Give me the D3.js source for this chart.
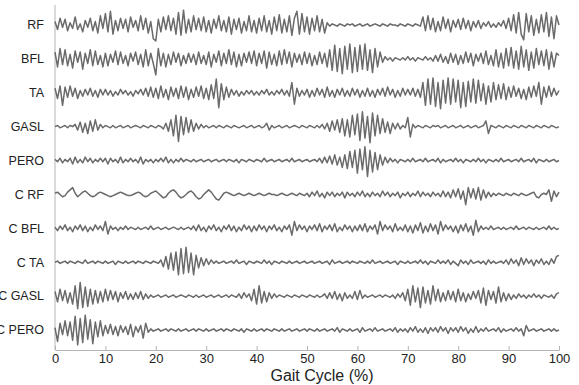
<!DOCTYPE html>
<html>
<head>
<meta charset="utf-8">
<script src="https://cdn.jsdelivr.net/npm/d3@7"></script>
<style>
  body { margin: 0; background: #fff; }
  svg { display: block; font-family: "Liberation Sans", Arial, sans-serif; }
</style>
</head>
<body>
<div id="chart"></div>
<script>
// muscle labels, top to bottom
const muscles = ['RF', 'BFL', 'TA', 'GASL', 'PERO', 'C RF', 'C BFL', 'C TA', 'C GASL', 'C PERO'];
// samples every 0.5 % of the gait cycle (201 per trace)
const pct = d3.range(0, 100.5, 0.5);
const xTicks = [0, 10, 20, 30, 40, 50, 60, 70, 80, 90, 100];

const emgRF = [
  3,-4,6,-2,5,-5,2,-3,7,-4,1,-6,4,-2,6,-5,3,-7,8,-3,
  10,-6,12,-8,4,-5,6,-3,5,-6,7,-2,4,-5,8,-4,6,-7,3,-12,
  -14,5,-6,7,-4,8,-5,6,-8,11,-9,13,-7,5,-6,8,-4,6,-5,7,
  -6,4,-7,5,-3,8,-5,4,-6,7,-8,5,-4,6,-7,3,-5,8,-6,4,
  -7,6,-5,8,-6,4,-8,7,-5,9,-7,5,-6,8,-9,6,12,-8,10,-6,
  7,-8,6,-5,8,-6,5,-7,2,-1,1,0,-1,1,0,-1,1,0,1,-1,
  0,1,-1,0,1,-1,0,1,0,-1,1,0,-1,1,0,0,-1,1,0,-1,
  1,0,-1,1,0,-1,7,-5,8,-4,6,-6,3,-5,7,-3,5,-6,4,-2,
  5,-4,6,-3,4,-5,3,-2,4,-3,2,-1,3,-2,1,-2,2,-1,4,-3,
  6,-5,9,-7,11,-8,-13,10,-6,8,-9,5,-7,9,-6,11,-10,7,-12,8,
  0];
const emgBFL = [
  6,-7,9,-5,8,-6,4,-8,7,-3,6,-9,5,-4,8,-6,7,-5,3,-7,
  5,-6,4,-3,7,-5,6,-4,3,-6,5,-2,6,-5,4,-7,8,-6,5,-4,
  -14,9,-6,5,-7,4,-5,6,-3,5,-6,3,-4,5,-3,4,-5,6,-4,3,
  -5,6,-7,4,-3,7,-6,5,-4,8,-5,6,-7,4,-6,5,-3,6,-4,7,
  -6,5,-4,7,-8,6,-5,4,-6,7,-5,8,-4,6,-7,5,-3,4,-5,6,
  -4,5,-6,3,-5,6,-4,5,-7,8,-10,12,-11,9,-13,11,-9,13,-12,10,
  -11,12,-9,13,-10,8,-12,9,-7,6,-3,2,-1,1,-2,1,0,-1,1,-1,
  2,-1,1,-2,1,0,-1,2,-1,1,-2,3,-2,4,-3,2,-4,5,-3,4,
  -5,3,-4,6,-3,5,-6,4,-2,5,-4,7,-5,3,-6,8,-7,5,-8,9,
  -6,10,-8,7,-9,11,-7,8,-10,6,-8,9,-5,7,-6,8,-9,6,-7,5,
  3];
const emgTA = [
  4,-5,6,-11,5,-4,6,-3,4,-5,2,-3,3,-2,4,-3,2,-4,3,-2,
  3,-2,2,-3,1,-2,3,-1,2,-2,1,-3,2,-1,3,-2,4,-3,5,-4,
  4,-5,6,-4,3,-6,5,-3,4,-5,6,-4,5,-6,3,-4,5,-3,6,-5,
  4,-6,7,-5,12,-13,8,-6,5,-4,3,-2,2,-3,1,-2,2,-1,2,-2,
  1,-2,2,-1,3,-2,1,-2,2,-1,3,-2,2,-3,9,-10,4,-3,2,-2,
  3,-4,2,-3,4,-2,3,-4,5,-3,2,-4,3,-2,4,-3,2,-3,4,-2,
  3,-4,2,-3,4,-3,2,-4,3,-2,4,-3,5,-2,3,-4,2,-3,4,-2,
  3,-2,4,-3,3,-4,9,-11,12,-10,13,-12,9,-14,11,-9,13,-10,12,-8,
  11,-13,9,-12,10,-8,12,-9,11,-7,8,-10,6,-8,9,-6,7,-5,8,-6,
  5,-4,6,-3,4,-5,3,-6,5,-4,6,-3,9,-10,5,-4,6,-3,4,-2,
  2];
const emgGASL = [
  0,1,-1,0,1,-1,1,0,2,-3,4,-5,3,-6,5,-4,6,-3,2,-1,
  1,0,-1,1,-1,0,1,-1,0,1,-1,0,1,0,-1,1,0,-1,1,0,
  -1,1,0,-2,3,-4,6,-8,10,-13,9,-7,8,-5,6,-4,3,-2,2,-1,
  1,-1,0,1,-1,1,0,-1,1,0,-1,1,0,-1,0,1,-1,0,1,-1,
  0,1,-1,0,3,-3,1,-1,0,1,-1,0,1,-1,0,1,0,-1,1,0,
  -1,1,0,-1,1,-1,2,-2,3,-4,5,-3,6,-5,7,-8,6,-9,10,-7,
  11,-12,13,-10,9,-14,12,-8,10,-6,7,-5,4,-6,3,-2,3,-2,1,-1,
  8,-9,2,-1,1,0,-1,1,0,-1,1,0,1,-1,0,1,-1,0,1,-1,
  0,1,-1,0,1,-1,0,1,-1,0,1,5,-6,1,0,-1,1,0,-1,1,
  0,-1,1,0,-1,1,0,-1,1,0,-1,1,0,-1,1,0,-1,1,0,-1,
  0];
const emgPERO = [
  1,-1,2,-2,1,-1,2,-3,3,-2,1,-2,3,-1,2,-2,1,-1,2,-1,
  2,-3,2,-1,1,-2,3,-2,1,-1,2,-1,1,-2,3,-3,1,-1,1,-2,
  1,-1,2,-1,3,-2,1,-2,1,-1,2,-1,1,0,-1,1,-1,0,1,-1,
  0,1,-1,0,1,-1,0,1,-1,1,0,-1,1,-2,1,0,-1,1,0,-1,
  1,0,-1,2,-1,0,1,-1,0,1,-1,0,1,-1,2,-1,0,1,-1,0,
  1,-1,0,1,-1,2,-2,3,-2,4,-3,5,-4,3,-6,5,-7,8,-6,9,
  -11,10,-8,12,-14,9,-10,7,-8,5,-4,3,-2,2,-1,1,-2,1,0,-1,
  1,-1,2,-1,0,1,-1,2,-1,0,1,-1,2,-2,1,-1,0,1,-1,2,
  -1,1,-2,1,0,-1,1,-1,2,-1,1,-2,1,0,-1,1,-1,2,-1,0,
  1,-1,0,1,-1,2,-1,0,1,-1,2,-2,1,0,-1,1,-1,0,1,-1,
  0];
const emgCRF = [
  1,2,0,-2,-1,2,4,6,1,-2,0,2,3,1,-1,-2,-1,1,2,1,
  0,-1,-2,-1,0,1,2,1,0,-1,-1,0,1,2,1,-1,-2,-1,1,2,
  3,1,-1,-3,-2,1,3,4,2,-1,-3,-2,0,2,3,1,-2,-4,-3,0,
  2,4,2,-1,-4,-5,-2,1,2,1,0,-1,0,1,0,-1,0,1,0,-1,
  0,1,0,-1,0,1,0,0,-1,0,1,0,-1,0,1,0,-1,1,0,-1,
  1,-2,2,-1,3,-2,1,-3,2,-1,2,-2,1,-1,2,-3,2,-1,1,-2,
  2,-1,3,-2,1,-2,2,-1,1,-2,3,-1,2,-2,1,-1,2,-3,1,-1,
  2,-2,1,-1,3,-2,2,-1,1,-2,2,-1,1,-2,3,-2,2,-3,4,-2,
  5,-4,3,-9,6,-3,5,-4,6,-5,4,-3,2,-2,1,-1,1,0,-1,1,
  0,-1,1,0,-1,1,0,-1,0,1,2,-2,-3,0,1,0,4,-6,3,-2,
  2];
const emgCBFL = [
  1,-2,2,-1,3,-2,1,-3,2,-1,3,-2,2,-3,1,-2,3,-1,2,-2,
  6,-5,2,-1,1,-2,1,-1,2,-1,1,0,-1,1,-1,0,1,-1,2,-1,
  0,1,-1,0,1,-1,0,1,0,-1,1,-1,0,1,-1,2,-2,3,-2,1,
  -3,2,-1,3,-2,1,-3,2,-1,3,-2,2,-3,1,-2,3,-1,2,-3,2,
  -2,3,-1,2,-3,2,-1,3,-2,1,-3,2,-1,3,-6,6,-2,3,-1,2,
  -3,2,-1,3,-2,4,-3,2,-1,3,-2,4,-3,1,-2,3,-1,2,-3,2,
  -2,3,-2,4,-3,2,-1,3,-5,6,-2,3,-1,2,-3,4,-2,1,-2,3,
  -3,2,-4,3,-2,5,-4,2,-3,4,-2,3,-5,6,-2,3,-1,2,-3,2,
  -4,3,-2,4,-3,2,-6,7,-3,2,-1,1,-1,2,-1,0,1,-1,1,-1,
  0,1,-1,2,-1,0,1,-1,1,0,-1,1,-1,0,1,-1,2,-1,1,-1,
  0];
const emgCTA = [
  0,1,-1,0,1,-1,1,0,-1,1,0,-1,2,-1,0,1,-1,1,0,-1,
  1,-1,0,1,-2,1,0,-1,1,-1,0,1,-1,1,0,-1,1,0,-1,1,
  0,-1,2,-4,5,-6,8,-7,9,-11,12,-10,13,-9,8,-11,6,-5,4,-3,
  3,-2,2,-1,1,-1,0,1,-1,0,1,-1,2,-1,0,1,-2,1,0,-1,
  1,0,-1,2,-1,1,-2,1,0,-1,1,0,-1,1,-1,0,1,-1,0,1,
  -1,0,1,-1,0,1,-1,0,1,-2,2,-1,0,1,-1,0,1,-1,1,0,
  -1,1,0,-1,1,-1,2,-1,0,1,-1,0,1,-1,0,1,-2,1,0,-1,
  1,-1,0,1,-1,2,-1,1,-2,1,0,-1,2,-1,1,-1,2,-2,1,-1,
  -3,2,-1,1,-2,2,-1,0,1,-1,1,-2,2,-1,1,-1,0,1,-1,2,
  -2,3,-1,2,-3,4,-2,3,-1,2,-3,2,-1,3,-2,1,-2,3,-1,5,
  6];
const emgCGASL = [
  4,-5,6,-4,5,-6,3,-7,9,-11,12,-10,8,-9,6,-7,5,-6,4,-5,
  6,-4,5,-3,4,-5,3,-2,4,-3,2,-3,3,-2,4,-3,2,-2,1,-1,
  0,1,-1,0,1,-1,0,1,-1,0,1,0,-1,1,0,-1,1,-1,0,1,
  -1,0,1,-1,0,1,-1,0,1,-1,1,0,-1,2,-2,3,-1,2,-4,6,
  -7,9,-6,4,-5,3,-2,2,-1,1,0,-1,1,0,-1,1,0,-1,1,0,
  -1,1,0,-1,1,-1,0,2,-2,3,-2,4,-3,2,-4,3,-2,1,-2,4,
  -3,5,-2,1,-1,0,1,-1,0,1,-1,1,0,-1,1,-2,2,-1,3,-4,
  6,-8,9,-5,7,-10,8,-6,5,-7,9,-4,6,-5,3,-4,5,-3,4,-5,
  6,-4,3,-5,2,-3,4,-2,5,-6,7,-8,5,-3,4,-6,8,-5,3,-4,
  2,-3,1,-2,2,-1,1,-2,1,-1,2,-1,1,-2,1,0,-1,1,-2,2,
  3];
const emgCPERO = [
  2,-10,6,-4,8,-5,7,-9,12,-13,10,-11,13,-8,9,-12,7,-6,8,-5,
  4,-3,5,-4,3,-5,4,-2,3,-4,5,-6,3,-2,4,-7,6,-2,1,-1,
  0,1,-1,0,1,-1,1,0,-1,1,-1,0,1,-1,0,1,-1,1,0,-1,
  1,-1,0,1,-1,0,1,-1,1,0,-1,1,0,-1,1,-2,1,0,-1,1,
  -1,0,1,-1,1,0,-1,1,0,-1,1,-1,0,1,-1,0,1,-1,0,1,
  -1,1,0,-1,1,-1,0,1,-1,0,1,-1,2,-2,1,0,-1,1,-1,0,
  1,-2,2,-1,0,1,-1,2,-1,0,1,-1,0,1,-1,2,-2,1,-1,1,
  -2,2,-1,3,-2,1,-2,2,-3,2,-1,2,-2,3,-1,2,-3,2,-1,2,
  -2,3,-1,2,-3,1,-2,3,-2,1,-1,2,-1,0,1,-1,2,-2,1,-1,
  0,1,-1,2,-1,1,-5,4,-1,0,1,-1,0,1,-1,0,1,-1,1,-1,
  0];

const traces = [emgRF, emgBFL, emgTA, emgGASL, emgPERO, emgCRF, emgCBFL, emgCTA, emgCGASL, emgCPERO];

const width = 579, height = 385;
const margin = { top: 5, right: 20, bottom: 35, left: 55 };

const svg = d3.select('#chart')
  .append('svg')
  .attr('width', width)
  .attr('height', height);

const x = d3.scaleLinear().domain([0, 100]).range([margin.left, 559]);
const row = d3.scalePoint().domain(muscles).range([25, 330]);
const amp = d3.scaleLinear().domain([-14, 14]).range([16, -16]);

// left spine
svg.append('line')
  .attr('x1', margin.left).attr('x2', margin.left)
  .attr('y1', margin.top).attr('y2', height - margin.bottom)
  .attr('stroke', '#b5b5b5');

// traces
const line = d3.line()
  .x((d, i) => x(pct[i]))
  .y((d) => amp(d));

svg.append('g')
  .selectAll('path')
  .data(traces)
  .join('path')
  .attr('transform', (d, i) => `translate(0,${row(muscles[i])})`)
  .attr('fill', 'none')
  .attr('stroke', '#6a6a6a')
  .attr('stroke-width', 1.5)
  .attr('stroke-linejoin', 'round')
  .attr('d', line);

// muscle names (the long ones run off the left edge, as in the original)
svg.append('g')
  .attr('font-size', 12.5)
  .attr('fill', '#222')
  .attr('text-anchor', 'end')
  .selectAll('text')
  .data(muscles)
  .join('text')
  .attr('x', 44)
  .attr('y', (d) => row(d))
  .attr('dy', '0.35em')
  .text((d) => d);

// x axis, ticks pointing up into the plot
const xAxis = svg.append('g')
  .attr('transform', `translate(0,${height - margin.bottom})`)
  .call(d3.axisBottom(x).tickValues(xTicks).tickSizeInner(-4).tickSizeOuter(0).tickPadding(4));
xAxis.select('.domain').attr('stroke', '#b5b5b5');
xAxis.selectAll('.tick line').attr('stroke', '#b5b5b5');
xAxis.selectAll('.tick text')
  .attr('font-size', 13)
  .attr('font-family', '"Liberation Sans", Arial, sans-serif')
  .attr('fill', '#222');

svg.append('text')
  .attr('x', 322)
  .attr('y', 381)
  .attr('text-anchor', 'middle')
  .attr('font-size', 16)
  .attr('fill', '#222')
  .text('Gait Cycle (%)');
</script>
</body>
</html>
